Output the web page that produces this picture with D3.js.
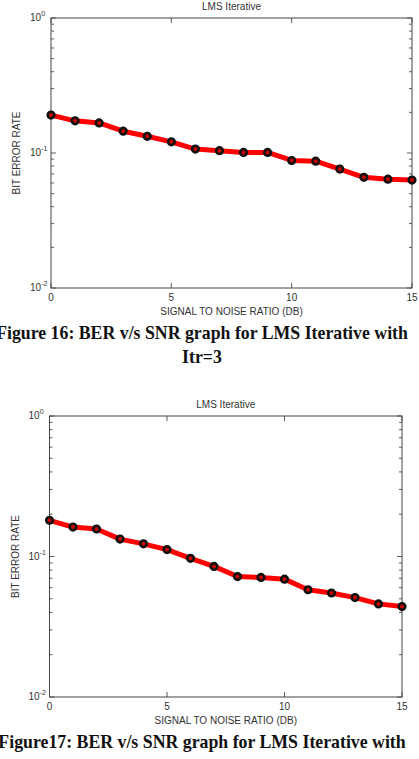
<!DOCTYPE html>
<meta charset="utf-8">
<script src="https://d3js.org/d3.v7.js"></script>
<style>
  body { margin: 0; background: #fff; }
  svg { display: block; }
  text { font-family: "Liberation Sans", Arial, sans-serif; fill: #333; }
  .caption { font-family: "Liberation Serif", "Times New Roman", serif; font-weight: bold; fill: #111; }
</style>
<div id="my_dataviz"></div>
<script>
// SNR values (dB) shared by both figures
var snr = [0, 1, 2, 3, 4, 5, 6, 7, 8, 9, 10, 11, 12, 13, 14, 15]

// BER
var berItr3 = [0.191, 0.173, 0.167, 0.145, 0.133, 0.121, 0.107, 0.104, 0.101, 0.101, 0.088, 0.087, 0.076, 0.066, 0.064, 0.063]
var berItr2 = [0.181, 0.162, 0.157, 0.133, 0.123, 0.112, 0.097, 0.085, 0.072, 0.071, 0.069, 0.058, 0.055, 0.051, 0.046, 0.044]

var xTicks = [0, 5, 10, 15]
var yTicks = [1e-2, 1e-1, 1e0]
var yTickExp = ["-2", "-1", "0"]

var title = "LMS Iterative"
var xLabel = "SIGNAL TO NOISE RATIO (DB)"
var yLabel = "BIT ERROR RATE"
var caption1 = ["Figure 16: BER v/s SNR graph for LMS Iterative with", "Itr=3"]
// second line of this caption falls below the page edge
var caption2 = ["Figure17: BER v/s SNR graph for LMS Iterative with"]

const W = 419, H = 759

const svg = d3.select("#my_dataviz")
  .append("svg")
    .attr("width", W)
    .attr("height", H)

// one MATLAB-like panel
function panel(box, ber, caption) {
  var x = d3.scaleLinear().domain([0, 15]).range([box.left, box.right])
  var y = d3.scaleLog().domain([1e-2, 1]).range([box.bottom, box.top])
  var g = svg.append("g")

  // minor log ticks (2..9 of each decade), left and right, pointing inward
  var minor = []
  for (var d = -2; d < 0; d++) {
    for (var m = 2; m <= 9; m++) minor.push(m * Math.pow(10, d))
  }
  g.selectAll(".minorL").data(minor).join("line")
    .attr("x1", box.left).attr("x2", box.left + 3)
    .attr("y1", d => y(d)).attr("y2", d => y(d))
    .attr("stroke", "#333").attr("stroke-width", 0.8)
  g.selectAll(".minorR").data(minor).join("line")
    .attr("x1", box.right).attr("x2", box.right - 3)
    .attr("y1", d => y(d)).attr("y2", d => y(d))
    .attr("stroke", "#333").attr("stroke-width", 0.8)

  // major y ticks
  g.selectAll(".majL").data(yTicks).join("line")
    .attr("x1", box.left).attr("x2", box.left + 5)
    .attr("y1", d => y(d)).attr("y2", d => y(d))
    .attr("stroke", "#333").attr("stroke-width", 0.8)
  g.selectAll(".majR").data(yTicks).join("line")
    .attr("x1", box.right).attr("x2", box.right - 5)
    .attr("y1", d => y(d)).attr("y2", d => y(d))
    .attr("stroke", "#333").attr("stroke-width", 0.8)

  // x ticks top & bottom
  g.selectAll(".xb").data(xTicks).join("line")
    .attr("x1", d => x(d)).attr("x2", d => x(d))
    .attr("y1", box.bottom).attr("y2", box.bottom - 5)
    .attr("stroke", "#333").attr("stroke-width", 0.8)
  g.selectAll(".xt").data(xTicks).join("line")
    .attr("x1", d => x(d)).attr("x2", d => x(d))
    .attr("y1", box.top).attr("y2", box.top + 5)
    .attr("stroke", "#333").attr("stroke-width", 0.8)

  // frame
  g.append("rect")
    .attr("x", box.left).attr("y", box.top)
    .attr("width", box.right - box.left).attr("height", box.bottom - box.top)
    .attr("fill", "none").attr("stroke", "#444").attr("stroke-width", 1)

  // tick labels
  g.selectAll(".xl").data(xTicks).join("text")
    .attr("x", d => x(d)).attr("y", box.bottom + 13)
    .attr("text-anchor", "middle").style("font-size", "10px")
    .text(d => d)
  var yl = g.selectAll(".yl").data(yTicks).join("text")
    .attr("x", box.left - 21).attr("y", d => y(d) + 3)
    .attr("text-anchor", "start").style("font-size", "10px")
  yl.append("tspan").text("10")
  yl.append("tspan").attr("dy", -5).style("font-size", "7px").text((d, i) => yTickExp[i])

  // title and axis labels
  g.append("text")
    .attr("x", (box.left + box.right) / 2).attr("y", box.top - 8)
    .attr("text-anchor", "middle").style("font-size", "10px")
    .text(title)
  g.append("text")
    .attr("x", (box.left + box.right) / 2).attr("y", box.bottom + 27)
    .attr("text-anchor", "middle").style("font-size", "10px")
    .text(xLabel)
  g.append("text")
    .attr("transform", `translate(${box.left - 31},${y(0.1)}) rotate(-90)`)
    .attr("text-anchor", "middle").style("font-size", "10px")
    .text(yLabel)

  // data line
  var line = d3.line().x((d, i) => x(snr[i])).y(d => y(d))
  g.append("path")
    .datum(ber)
    .attr("d", line)
    .attr("fill", "none").attr("stroke", "#f00").attr("stroke-width", 5)
    .attr("stroke-linejoin", "round")
  g.selectAll(".pt").data(ber).join("circle")
    .attr("cx", (d, i) => x(snr[i])).attr("cy", d => y(d))
    .attr("r", 3.3)
    .attr("fill", "#c00").attr("stroke", "#111").attr("stroke-width", 2.6)

  // caption
  g.selectAll(".cap").data(caption).join("text")
    .attr("class", "caption")
    .attr("x", 202).attr("y", (d, i) => box.bottom + 51 + i * 24)
    .attr("text-anchor", "middle").style("font-size", "17.8px")
    .text(d => d)
}

panel({left: 51, right: 412, top: 18, bottom: 288}, berItr3, caption1)
panel({left: 49.5, right: 402, top: 416, bottom: 697}, berItr2, caption2)
</script>
